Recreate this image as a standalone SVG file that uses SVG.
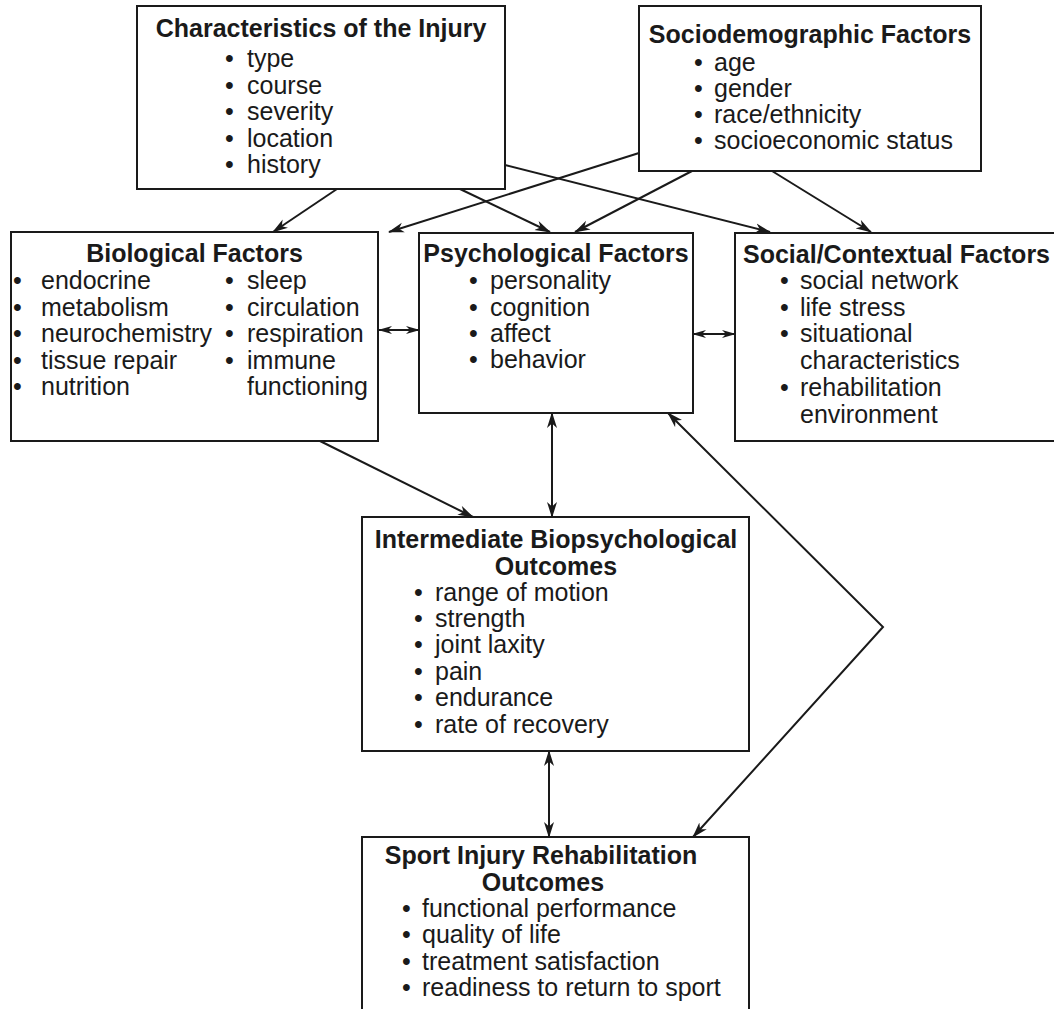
<svg xmlns="http://www.w3.org/2000/svg" width="1054" height="1009" viewBox="0 0 1054 1009">
<style>
.box{fill:#fff;stroke:#1a1a1a;stroke-width:2}
.t{font-family:"Liberation Sans",Arial,sans-serif;font-size:25px;font-weight:bold;fill:#1a1a1a}
.b{font-family:"Liberation Sans",Arial,sans-serif;font-size:25px;fill:#1a1a1a}
.c{text-anchor:middle}
.ln{fill:none;stroke:#1a1a1a;stroke-width:2}
</style>
<defs>
<marker id="ah" viewBox="0 0 16 11" refX="15" refY="5.5" markerWidth="16" markerHeight="11" markerUnits="userSpaceOnUse" orient="auto-start-reverse">
<path d="M0,0.5 L16,5.5 L0,10.5 L4.5,5.5 z" fill="#1a1a1a"/>
</marker>
<marker id="ahs" viewBox="0 0 14 9" refX="13" refY="4.5" markerWidth="14" markerHeight="9" markerUnits="userSpaceOnUse" orient="auto-start-reverse">
<path d="M0,0.5 L14,4.5 L0,8.5 L4,4.5 z" fill="#1a1a1a"/>
</marker>
</defs>
<rect width="1054" height="1009" fill="#fff"/>

<g id="connectors">
<line class="ln" x1="337" y1="189" x2="273" y2="232" marker-end="url(#ah)"/>
<line class="ln" x1="460" y1="189" x2="550" y2="232" marker-end="url(#ah)"/>
<line class="ln" x1="505" y1="165" x2="770" y2="232" marker-end="url(#ah)"/>
<line class="ln" x1="639" y1="153" x2="389" y2="232" marker-end="url(#ah)"/>
<line class="ln" x1="692" y1="171" x2="575" y2="232" marker-end="url(#ah)"/>
<line class="ln" x1="772" y1="171" x2="871" y2="232" marker-end="url(#ah)"/>
<line class="ln" x1="379" y1="330" x2="419" y2="330" marker-start="url(#ahs)" marker-end="url(#ahs)"/>
<line class="ln" x1="693" y1="334" x2="735" y2="334" marker-start="url(#ahs)" marker-end="url(#ahs)"/>
<line class="ln" x1="320" y1="441" x2="473" y2="517" marker-end="url(#ah)"/>
<line class="ln" x1="552" y1="413" x2="552" y2="517" marker-start="url(#ah)" marker-end="url(#ah)"/>
<line class="ln" x1="549" y1="751" x2="549" y2="837" marker-start="url(#ah)" marker-end="url(#ah)"/>
<polyline class="ln" points="668,413 883,627 693,837" marker-start="url(#ah)" marker-end="url(#ah)"/>
</g>

<g id="injury">
<rect class="box" x="137" y="6" width="368" height="183"/>
<text class="t c" x="321" y="37">Characteristics of the Injury</text>
<text class="b" x="225" y="67">•</text><text class="b" x="247" y="67">type</text>
<text class="b" x="225" y="94">•</text><text class="b" x="247" y="94">course</text>
<text class="b" x="225" y="120">•</text><text class="b" x="247" y="120">severity</text>
<text class="b" x="225" y="147">•</text><text class="b" x="247" y="147">location</text>
<text class="b" x="225" y="173">•</text><text class="b" x="247" y="173">history</text>
</g>

<g id="sociodemographic">
<rect class="box" x="639" y="6" width="342" height="165"/>
<text class="t c" x="810" y="43">Sociodemographic Factors</text>
<text class="b" x="694" y="71">•</text><text class="b" x="714" y="71">age</text>
<text class="b" x="694" y="97">•</text><text class="b" x="714" y="97">gender</text>
<text class="b" x="694" y="123">•</text><text class="b" x="714" y="123">race/ethnicity</text>
<text class="b" x="694" y="149">•</text><text class="b" x="714" y="149">socioeconomic status</text>
</g>

<g id="biological">
<rect class="box" x="11" y="232" width="367" height="209"/>
<text class="t c" x="194.5" y="262">Biological Factors</text>
<text class="b" x="13" y="289">•</text><text class="b" x="41" y="289">endocrine</text>
<text class="b" x="13" y="316">•</text><text class="b" x="41" y="316">metabolism</text>
<text class="b" x="13" y="342">•</text><text class="b" x="41" y="342">neurochemistry</text>
<text class="b" x="13" y="369">•</text><text class="b" x="41" y="369">tissue repair</text>
<text class="b" x="13" y="395">•</text><text class="b" x="41" y="395">nutrition</text>
<text class="b" x="225" y="289">•</text><text class="b" x="247" y="289">sleep</text>
<text class="b" x="225" y="316">•</text><text class="b" x="247" y="316">circulation</text>
<text class="b" x="225" y="342">•</text><text class="b" x="247" y="342">respiration</text>
<text class="b" x="225" y="369">•</text><text class="b" x="247" y="369">immune</text>
<text class="b" x="247" y="395">functioning</text>
</g>

<g id="psychological">
<rect class="box" x="419" y="233" width="274" height="180"/>
<text class="t c" x="556" y="262">Psychological Factors</text>
<text class="b" x="469" y="289">•</text><text class="b" x="490" y="289">personality</text>
<text class="b" x="469" y="316">•</text><text class="b" x="490" y="316">cognition</text>
<text class="b" x="469" y="342">•</text><text class="b" x="490" y="342">affect</text>
<text class="b" x="469" y="368">•</text><text class="b" x="490" y="368">behavior</text>
</g>

<g id="social">
<rect class="box" x="735" y="233" width="330" height="208"/>
<text class="t" x="743" y="263">Social/Contextual Factors</text>
<text class="b" x="780" y="289">•</text><text class="b" x="800" y="289">social network</text>
<text class="b" x="780" y="316">•</text><text class="b" x="800" y="316">life stress</text>
<text class="b" x="780" y="342">•</text><text class="b" x="800" y="342">situational</text>
<text class="b" x="800" y="369">characteristics</text>
<text class="b" x="780" y="396">•</text><text class="b" x="800" y="396">rehabilitation</text>
<text class="b" x="800" y="423">environment</text>
</g>

<g id="intermediate">
<rect class="box" x="362" y="517" width="387" height="234"/>
<text class="t c" x="556" y="548">Intermediate Biopsychological</text>
<text class="t c" x="556" y="575">Outcomes</text>
<text class="b" x="414" y="601">•</text><text class="b" x="435" y="601">range of motion</text>
<text class="b" x="414" y="627">•</text><text class="b" x="435" y="627">strength</text>
<text class="b" x="414" y="653">•</text><text class="b" x="435" y="653">joint laxity</text>
<text class="b" x="414" y="680">•</text><text class="b" x="435" y="680">pain</text>
<text class="b" x="414" y="706">•</text><text class="b" x="435" y="706">endurance</text>
<text class="b" x="414" y="733">•</text><text class="b" x="435" y="733">rate of recovery</text>
</g>

<g id="sport">
<rect class="box" x="362" y="837" width="387" height="180"/>
<text class="t c" x="541" y="864">Sport Injury Rehabilitation</text>
<text class="t c" x="543" y="891">Outcomes</text>
<text class="b" x="402" y="917">•</text><text class="b" x="422" y="917">functional performance</text>
<text class="b" x="402" y="943">•</text><text class="b" x="422" y="943">quality of life</text>
<text class="b" x="402" y="970">•</text><text class="b" x="422" y="970">treatment satisfaction</text>
<text class="b" x="402" y="996">•</text><text class="b" x="422" y="996">readiness to return to sport</text>
</g>
</svg>
